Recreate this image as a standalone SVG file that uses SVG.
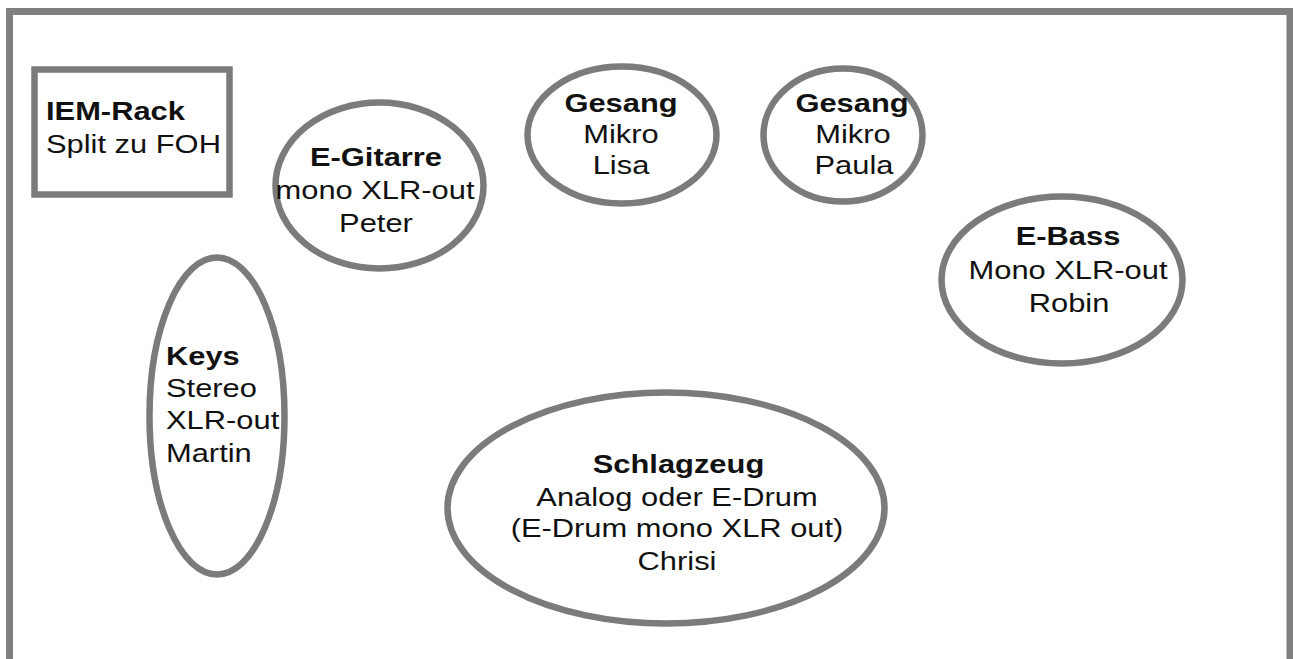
<svg xmlns="http://www.w3.org/2000/svg" width="1293" height="659" viewBox="0 0 1293 659">
<style>
.shape{fill:#fff;stroke:#7b7b7b;stroke-width:6.5}
.t{font-family:"Liberation Sans",Arial,sans-serif;font-size:25px;fill:#111}
.b{font-weight:bold}
.c{text-anchor:middle}
</style>
<rect x="0" y="0" width="1293" height="659" fill="#fff"/>
<path d="M9.5 659 V11.5 H1290 V659" fill="none" stroke="#808080" stroke-width="7"/>
<g id="connectors"></g>
<g id="iem-rack">
<rect class="shape" x="34.5" y="69.5" width="195" height="125"/>
<text class="t b" transform="translate(46,120) scale(1.235,1)">IEM-Rack</text>
<text class="t" transform="translate(46,153) scale(1.235,1)">Split zu FOH</text>
</g>
<g id="e-gitarre">
<ellipse class="shape" cx="379.5" cy="185.5" rx="104" ry="83"/>
<text class="t b c" transform="translate(376,166) scale(1.235,1)">E-Gitarre</text>
<text class="t c" transform="translate(375,199) scale(1.235,1)">mono XLR-out</text>
<text class="t c" transform="translate(376,232) scale(1.235,1)">Peter</text>
</g>
<g id="gesang-lisa">
<ellipse class="shape" cx="622" cy="135" rx="94.5" ry="68.5"/>
<text class="t b c" transform="translate(621,112) scale(1.235,1)">Gesang</text>
<text class="t c" transform="translate(621,143) scale(1.235,1)">Mikro</text>
<text class="t c" transform="translate(621,173.5) scale(1.235,1)">Lisa</text>
</g>
<g id="gesang-paula">
<ellipse class="shape" cx="843" cy="135" rx="79.5" ry="66.5"/>
<text class="t b c" transform="translate(852,112) scale(1.235,1)">Gesang</text>
<text class="t c" transform="translate(853,143) scale(1.235,1)">Mikro</text>
<text class="t c" transform="translate(854,173.5) scale(1.235,1)">Paula</text>
</g>
<g id="e-bass">
<ellipse class="shape" cx="1062" cy="280" rx="120.5" ry="83.5"/>
<text class="t b c" transform="translate(1068,245) scale(1.235,1)">E-Bass</text>
<text class="t c" transform="translate(1068,279) scale(1.235,1)">Mono XLR-out</text>
<text class="t c" transform="translate(1069,311.5) scale(1.235,1)">Robin</text>
</g>
<g id="keys">
<ellipse class="shape" cx="217" cy="416" rx="67.5" ry="158.5"/>
<text class="t b" transform="translate(166,365) scale(1.235,1)">Keys</text>
<text class="t" transform="translate(166,397) scale(1.235,1)">Stereo</text>
<text class="t" transform="translate(166,429) scale(1.235,1)">XLR-out</text>
<text class="t" transform="translate(166,461.5) scale(1.235,1)">Martin</text>
</g>
<g id="schlagzeug">
<ellipse class="shape" cx="666" cy="508" rx="218.5" ry="115.5"/>
<text class="t b c" transform="translate(678.5,472.5) scale(1.235,1)">Schlagzeug</text>
<text class="t c" transform="translate(677,505.5) scale(1.235,1)">Analog oder E-Drum</text>
<text class="t c" transform="translate(677,537) scale(1.235,1)">(E-Drum mono XLR out)</text>
<text class="t c" transform="translate(677,570) scale(1.235,1)">Chrisi</text>
</g>
</svg>
